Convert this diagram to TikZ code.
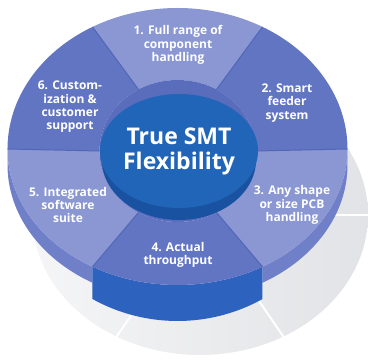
\documentclass[tikz,border=0pt]{standalone}
\usepackage{fontspec}
\setmainfont{Open Sans}
\usetikzlibrary{shapes.geometric}
\definecolor{seglight}{HTML}{8A97D2}
\definecolor{segdark}{HTML}{6275C3}
\definecolor{segside}{HTML}{7080C8}
\definecolor{bandblue}{HTML}{2D63BE}
\definecolor{hubblue}{HTML}{2065B8}
\definecolor{hubrim}{HTML}{1A52A2}
\definecolor{innerwall}{HTML}{5A6DBD}
\definecolor{edgeblue}{HTML}{5266B8}
\definecolor{shadowgray}{HTML}{E2E3E6}
\newcommand{\wheelx}{177.5}
\newcommand{\wheely}{214}
\begin{document}
\begin{tikzpicture}[x=1pt,y=1pt,
  segtext/.style={text=white, align=center, font=\bfseries\fontsize{12}{13.3}\selectfont},
  hubdisc/.style={ellipse, fill=hubblue, minimum width=152pt, minimum height=114pt,
    inner sep=0pt, text=white, align=center, font=\bfseries\fontsize{23}{25}\selectfont}]
  \useasboundingbox (0,0) rectangle (368,363);
  % shadow on the floor
  \shade[left color=shadowgray!35, right color=shadowgray] (200,148) ellipse[x radius=168, y radius=140];
  \foreach \a in {0,-60,-120}
    \draw[white, line width=2pt] (200,148) -- ({200+190*cos(\a)},{148+160*sin(\a)});
  % sides of the wheel
  \fill[segside] ({\wheelx+170*cos(-60)},{\wheely+136*sin(-60)}) arc[start angle=-60, end angle=0, x radius=170, y radius=136]
    -- ++(0,-16) arc[start angle=0, end angle=-60, x radius=170, y radius=136] -- cycle;
  \fill[segside] ({\wheelx+170*cos(-180)},{\wheely+136*sin(-180)}) arc[start angle=-180, end angle=-120, x radius=170, y radius=136]
    -- ++(0,-16) arc[start angle=-120, end angle=-180, x radius=170, y radius=136] -- cycle;
  \fill[bandblue] ({\wheelx+170*cos(-120)},{\wheely+136*sin(-120)}) arc[start angle=-120, end angle=-60, x radius=170, y radius=136]
    -- ({\wheelx+170*cos(-60)},{\wheely-8+164*sin(-60)}) arc[start angle=-60, end angle=-120, x radius=170, y radius=164] -- cycle;
  % top faces
  \foreach \ta/\tb/\ry/\col in {60/120/141/seglight, 0/60/141/segdark, 120/180/141/segdark,
      -60/0/136/seglight, -120/-60/136/segdark, -180/-120/136/seglight}
    \fill[\col] ({\wheelx+170*cos(\ta)},{\wheely+\ry*sin(\ta)}) arc[start angle=\ta, end angle=\tb, x radius=170, y radius=\ry]
      -- ({\wheelx+78*cos(\tb)},{212+71*sin(\tb)}) arc[start angle=\tb, end angle=\ta, x radius=78, y radius=71] -- cycle;
  \foreach \a/\ry in {0/141, 60/141, 120/141, 180/141, -120/136, -60/136}
    \draw[edgeblue, line width=1pt] ({\wheelx+78*cos(\a)},{212+71*sin(\a)}) -- ({\wheelx+170*cos(\a)},{\wheely+\ry*sin(\a)});
  % hub
  \fill[innerwall] (\wheelx,212) ellipse[x radius=78, y radius=71];
  \fill[hubrim] (179,203) ellipse[x radius=77, y radius=60];
  \node[hubdisc] (hub) at (179,212) {True SMT\\Flexibility};
  \node[segtext] (range) at (178,318) {1. Full range of\\component\\handling};
  \node[segtext] (feeder) at (287,260) {2. Smart\\feeder\\system};
  \node[segtext] (pcb) at (292,158) {3. Any shape\\or size PCB\\handling};
  \node[segtext] (throughput) at (178,108) {4. Actual\\throughput};
  \node[segtext] (software) at (68,158) {5. Integrated\\software\\suite};
  \node[segtext] (support) at (70,256) {6. Custom-\\ization \&\\customer\\support};
\end{tikzpicture}
\end{document}
